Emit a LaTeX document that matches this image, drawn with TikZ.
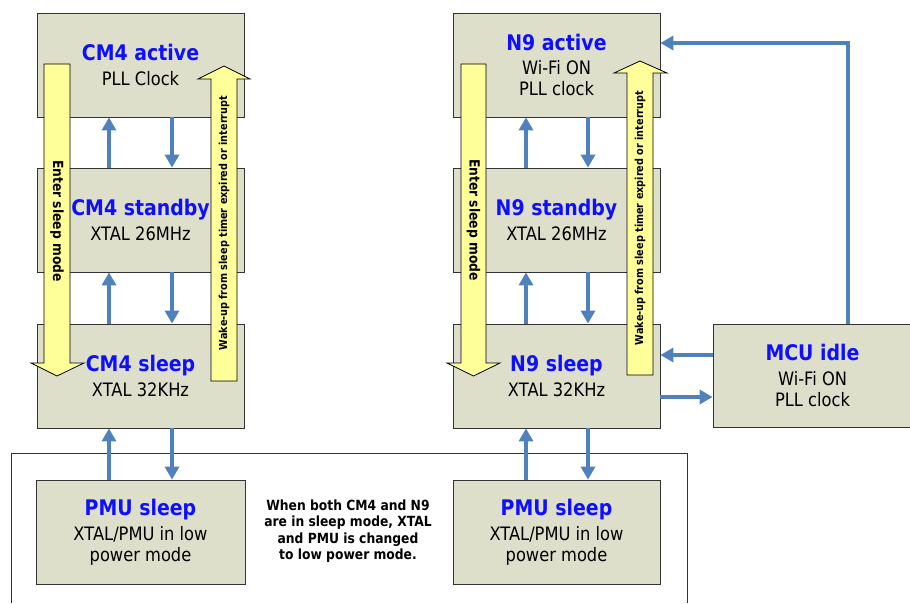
\documentclass[tikz,border=0pt]{standalone}
\usepackage{fontspec}
\setmainfont{DejaVu Sans}[FakeStretch=0.88]
\usetikzlibrary{arrows.meta,calc}
\definecolor{boxfill}{RGB}{221,223,203}
\definecolor{arrowblue}{RGB}{79,129,189}
\definecolor{titleblue}{RGB}{15,15,255}
\definecolor{yel}{RGB}{255,255,153}
\newcommand{\ttl}[1]{{\fontsize{21.5}{25}\selectfont\bfseries\color{titleblue}#1}}
\tikzset{
  state/.style={draw=black!80, line width=0.8pt, fill=boxfill, minimum width=207, minimum height=104,
    inner sep=0pt, align=center, font=\fontsize{18.5}{21}\selectfont},
  flow/.style={draw=arrowblue, line width=3.5pt, -{Triangle[width=14pt,length=13pt]}},
  yarrow/.style={fill=yel, draw=black, line width=0.8pt},
  ylabel/.style={font=\bfseries\fontsize{11}{12}\selectfont, inner sep=0pt},
  elabel/.style={font=\bfseries\fontsize{14}{16.5}\selectfont, inner sep=0pt},
  frame/.style={draw=black!80, line width=0.9pt}
}
\begin{document}
\begin{tikzpicture}[x=1pt,y=-1pt]
\useasboundingbox (0,0) rectangle (910,603);
% outer frame
\coordinate (f1) at (11,603);
\coordinate (f2) at (11,453);
\coordinate (f3) at (687,453);
\coordinate (f4) at (687,603);
\draw[frame] (f1) -- (f2) -- (f3) -- (f4);
% state boxes
\node[state] (cm4a) at (140.5,65) {\ttl{CM4 active}\\[3.5pt]PLL Clock};
\node[state] (cm4s) at (140.5,220) {\ttl{CM4 standby}\\[3.5pt]XTAL 26MHz};
\node[state] (cm4l) at (140.5,376) {\ttl{CM4 sleep}\\[3.5pt]XTAL 32KHz};
\node[state] (n9a) at (556.5,65) {\ttl{N9 active}\\[3.5pt]Wi-Fi ON\\PLL clock};
\node[state] (n9s) at (556.5,220) {\ttl{N9 standby}\\[3.5pt]XTAL 26MHz};
\node[state] (n9l) at (556.5,376) {\ttl{N9 sleep}\\[3.5pt]XTAL 32KHz};
\node[state, minimum width=199, minimum height=103] (mcu) at (812.5,375.5) {\ttl{MCU idle}\\[3.5pt]Wi-Fi ON\\PLL clock};
\node[state, minimum width=209] (pmu1) at (140.5,532) {\ttl{PMU sleep}\\[3.5pt]XTAL/PMU in low\\power mode};
\node[state] (pmu2) at (556.5,532) {\ttl{PMU sleep}\\[3.5pt]XTAL/PMU in low\\power mode};
% note
\node[elabel, align=center] (note) at (348,531) {When both CM4 and N9\\are in sleep mode, XTAL\\and PMU is changed\\to low power mode.};
% yellow arrows
\draw[yarrow] (44,64) -- (70,64) -- (70,363) -- (84,363) -- (57,376) -- (31,363) -- (44,363) -- cycle;
\draw[yarrow] (211,381) -- (237,381) -- (237,79) -- (250,79) -- (224,66) -- (198,79) -- (211,79) -- cycle;
\draw[yarrow] (461,64) -- (486,64) -- (486,363) -- (500,363) -- (473.5,376) -- (447,363) -- (461,363) -- cycle;
\draw[yarrow] (627,375) -- (653,375) -- (653,73) -- (667,73) -- (640,61) -- (614,73) -- (627,73) -- cycle;
\node[elabel, rotate=-90] (es1) at (57,221) {Enter sleep mode};
\node[ylabel, rotate=90] (wu1) at (224,223) {Wake-up from sleep timer expired or interrupt};
\node[elabel, rotate=-90] (es2) at (473.5,220) {Enter sleep mode};
\node[ylabel, rotate=90] (wu2) at (640,218) {Wake-up from sleep timer expired or interrupt};
% blue transitions (CM4)
\draw[flow] ($(cm4s.north)+(-31.5,0)$) -- ($(cm4a.south)+(-31.5,0)$);
\draw[flow] ($(cm4a.south)+(31.5,0)$) -- ($(cm4s.north)+(31.5,0)$);
\draw[flow] ($(cm4l.north)+(-31.5,0)$) -- ($(cm4s.south)+(-31.5,0)$);
\draw[flow] ($(cm4s.south)+(31.5,0)$) -- ($(cm4l.north)+(31.5,0)$);
\draw[flow] ($(pmu1.north)+(-31.5,0)$) -- ($(cm4l.south)+(-31.5,0)$);
\draw[flow] ($(cm4l.south)+(31.5,0)$) -- ($(pmu1.north)+(31.5,0)$);
% blue transitions (N9)
\draw[flow] ($(n9s.north)+(-30.5,0)$) -- ($(n9a.south)+(-30.5,0)$);
\draw[flow] ($(n9a.south)+(31.5,0)$) -- ($(n9s.north)+(31.5,0)$);
\draw[flow] ($(n9l.north)+(-30.5,0)$) -- ($(n9s.south)+(-30.5,0)$);
\draw[flow] ($(n9s.south)+(31.5,0)$) -- ($(n9l.north)+(31.5,0)$);
\draw[flow] ($(pmu2.north)+(-30.5,0)$) -- ($(n9l.south)+(-30.5,0)$);
\draw[flow] ($(n9l.south)+(31.5,0)$) -- ($(pmu2.north)+(31.5,0)$);
% MCU transitions
\coordinate (m1) at ($(mcu.west)+(0,-20.5)$);
\coordinate (m2) at ($(mcu.west)+(0,21.5)$);
\coordinate (m3) at ($(mcu.north)+(35.5,0)$);
\coordinate (m4) at ($(n9a.east)+(0,-22)$);
\draw[flow] (m1) -- (m1 -| n9l.east);
\draw[flow] (m2 -| n9l.east) -- (m2);
\draw[flow] (m3) |- (m4);
\end{tikzpicture}
\end{document}
